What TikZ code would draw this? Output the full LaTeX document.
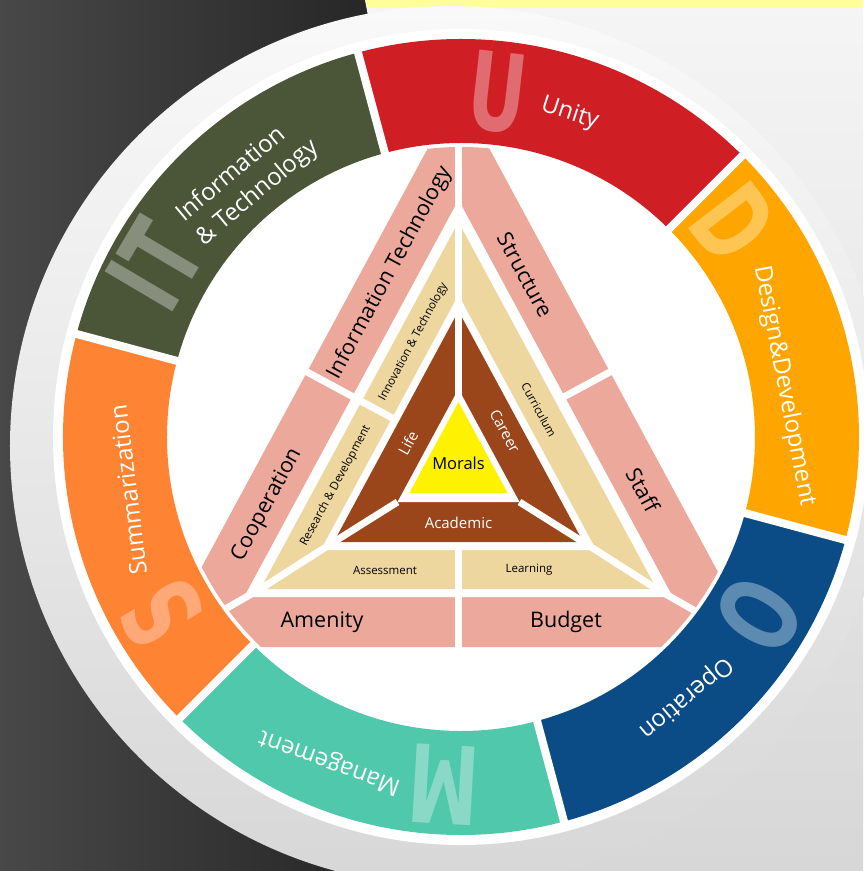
\documentclass[tikz,border=0pt]{standalone}
\usepackage{fontspec}
\setmainfont{Open Sans}
\newfontfamily\letterfont{DejaVu Sans}
\definecolor{unityred}{HTML}{CF1F25}
\definecolor{unitytint}{HTML}{E06C72}
\definecolor{designamber}{HTML}{FEA500}
\definecolor{designtint}{HTML}{FEC552}
\definecolor{operblue}{HTML}{0B4C86}
\definecolor{opertint}{HTML}{5D8AB0}
\definecolor{mgmtteal}{HTML}{50C8AB}
\definecolor{mgmttint}{HTML}{8AD9C7}
\definecolor{summorange}{HTML}{FE8433}
\definecolor{summtint}{HTML}{FEA977}
\definecolor{itolive}{HTML}{4B5538}
\definecolor{ittint}{HTML}{878E7B}
\definecolor{bandpink}{HTML}{EBA89B}
\definecolor{bandtan}{HTML}{EED79F}
\definecolor{corebrown}{HTML}{9B451B}
\definecolor{moralyellow}{HTML}{FFF200}
\definecolor{stripyellow}{HTML}{FFFF99}
\definecolor{darkleft}{HTML}{484848}
\definecolor{darkright}{HTML}{222222}
\definecolor{paletop}{HTML}{F5F5F5}
\definecolor{palebottom}{HTML}{D7D7D7}
\begin{document}
\begin{tikzpicture}[x=1pt,y=1pt,
				gap/.style = {white, line width = 7pt},
				ring gap/.style = {white, line width = 8pt},
				big letter/.style = {inner sep = 0pt, font = \letterfont\bfseries\fontsize{108}{108}\selectfont},
				ring label/.style = {text = white, inner sep = 0pt, font = \fontsize{24}{31}\selectfont},
				band label/.style = {inner sep = 0pt, font = \fontsize{21.5}{24}\selectfont},
				small label/.style = {inner sep = 0pt, font = \fontsize{11.5}{13}\selectfont},
				core label/.style = {text = white, inner sep = 0pt, font = \fontsize{15}{17}\selectfont},
				morals label/.style = {inner sep = 0pt, font = \fontsize{16.5}{18}\selectfont}]
				
				\useasboundingbox (-461,-434) rectangle (402,437);
				\fill[darkright] (-461,-434) rectangle (402,437);
				\shade[left color = darkleft, right color = darkright] (-461,-434) rectangle (-40,437);
				\shade[top color = paletop, bottom color = palebottom] (-96,437) -- (402,437) -- (402,-434) -- (-11,-434) -- (-11,-9) -- cycle;
				\fill[stripyellow] (-96,437) -- (402,437) -- (402,429) -- (-92,429) -- cycle;
				\shade[top color = paletop!60!white, bottom color = palebottom] (-11,-9) circle (440);
				\fill[white] (0,0) circle (408);
				
				\foreach \s/\col in {45/unityred, 105/itolive, 165/summorange, 225/mgmtteal, 285/operblue, 345/designamber}
				\fill[\col] (\s:294) arc[start angle = \s, delta angle = 60, radius = 294] -- ({\s+60}:398) arc[start angle = {\s+60}, delta angle = -60, radius = 398] -- cycle;
				\foreach \a in {45,105,...,345}
				\draw[ring gap] (\a:288) -- (\a:403);
				
				\begin{scope}
				\clip (0,0) circle (290);
				\foreach \a/\b/\col in {345.5/-210/bandpink, 237/-160/white, 215/-152/bandtan, 142/-113/white, 126/-105/corebrown, 48/-65/white, 35/-56/moralyellow}
				\fill[\col] (-2.5,\a) -- ({-2.5-0.54*(\a-(\b))},\b) -- ({-2.5+0.54*(\a-(\b))},\b) -- cycle;
				\draw[gap] (-2.5,300) -- (-2.5,35);
				\draw[gap] (-2.5,-106) -- (-2.5,-300);
				\foreach \s in {-1,1}
				\draw[gap] ({-2.5+\s*61},-65) -- ({-2.5+\s*124.7},-105) -- ({-2.5+\s*198.2},-152) -- ({-2.5+\s*300},-210) -- ({-2.5+\s*400},-267);
				\draw[gap] (-165,71) -- (-66,17.5);
				\draw[gap] (97,37) -- (175,79);
				\end{scope}
				
				\node[band label, rotate = 61.6] (infotech) at (-71.2,164) {Information Technology};
				\node[band label, rotate = 61.6] (cooperation) at (-194,-68) {Cooperation};
				\node[band label, rotate = -61.6] (structure) at (64,162) {Structure};
				\node[band label, rotate = -61.6] (staff) at (182,-53) {Staff};
				\node[band label] (amenity) at (-139,-185) {Amenity};
				\node[band label] (budget) at (105,-185) {Budget};
				\node[small label, rotate = 61.6] (innovation) at (-47.6,95) {Innovation \& Technology};
				\node[small label, rotate = 61.6] (research) at (-125.4,-49) {Research \& Development};
				\node[small label, rotate = -61.6] (curriculum) at (78,27) {Curriculum};
				\node[small label] (assessment) at (-76,-133) {Assessment};
				\node[small label] (learning) at (68,-133) {Learning};
				\node[core label, rotate = 61.6] (life) at (-53,-6) {Life};
				\node[core label, rotate = -61.6] (career) at (44,6) {Career};
				\node[core label] (academic) at (-2.5,-86) {Academic};
				\node[morals label] (morals) at (-2.5,-26) {Morals};
				
				\node[big letter, text = unitytint, rotate = -6.5] (U) at (84:346) {\scalebox{0.66}[1]{U}};
				\node[ring label, rotate = -18] (unity) at (71.4:341) {Unity};
				\node[big letter, text = designtint, rotate = -52.4] (D) at (38.2:347) {\scalebox{0.66}[1]{D}};
				\node[ring label, rotate = -79] (design) at (9:327) {Design\&Development};
				\node[big letter, text = opertint, rotate = -121.6] (O) at (-30.8:347) {\scalebox{0.66}[1]{O}};
				\node[ring label, rotate = -140] (operation) at (-49.2:344) {Operation};
				\node[big letter, text = mgmttint, rotate = -183.3] (M) at (-92.8:348) {\scalebox{0.66}[1]{M}};
				\node[ring label, rotate = 160] (management) at (-112:350) {Management};
				\node[big letter, text = summtint, rotate = 121.4] (S) at (-149.6:347) {\scalebox{0.66}[1]{S}};
				\node[ring label, rotate = 97] (summarization) at (-171:337) {Summarization};
				\node[big letter, text = ittint, rotate = 59.4] (IT) at (150.6:351) {\scalebox{0.66}[1]{IT}};
				\node[ring label, rotate = 40, align = left] (itring) at (129.8:333) {Information\\\& Technology};
				\end{tikzpicture}
\end{document}
